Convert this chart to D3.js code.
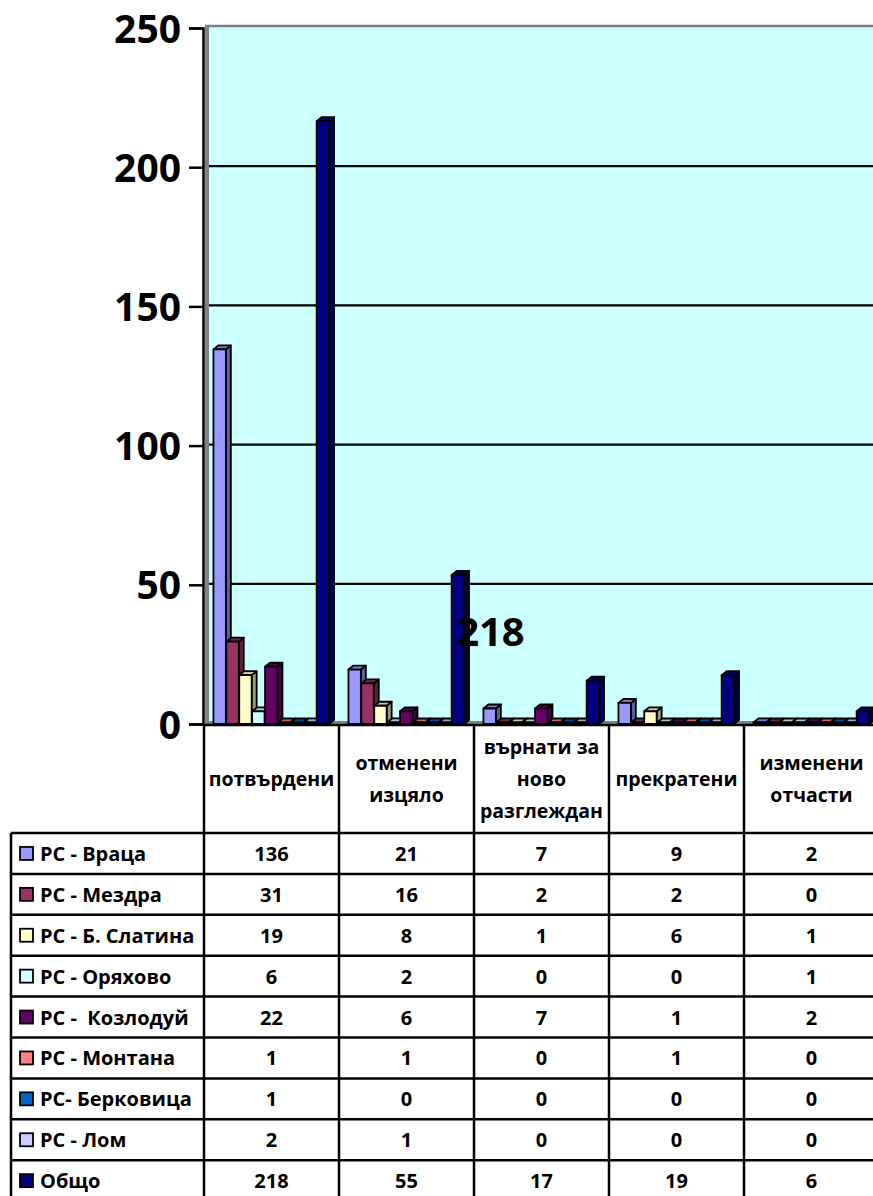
<!DOCTYPE html>
<html>
<head>
<meta charset="utf-8">
<script src="https://cdn.jsdelivr.net/npm/d3@7"></script>
<style>
  body { margin: 0; background: #fff; }
  text { font-family: "Open Sans", sans-serif; font-weight: bold; fill: #000; }
</style>
</head>
<body>
<svg id="chart" width="873" height="1196"></svg>
<script>
// categories along the x axis (table header)
const categories = ['потвърдени', 'отменени изцяло', 'върнати за ново разглеждан', 'прекратени', 'изменени отчасти']
const headerLines = [['потвърдени'], ['отменени', 'изцяло'], ['върнати за', 'ново', 'разглеждан'], ['прекратени'], ['изменени', 'отчасти']]

// series (table rows)
const series = ['РС - Враца', 'РС - Мездра', 'РС - Б. Слатина', 'РС - Оряхово', 'РС -  Козлодуй', 'РС - Монтана', 'РС- Берковица', 'РС - Лом', 'Общо']
const colors = ['#9999ff', '#993366', '#ffffcc', '#ccffff', '#660066', '#ff8080', '#0066cc', '#ccccff', '#000080']

// values per series, one per category
const vraca = [136, 21, 7, 9, 2]
const mezdra = [31, 16, 2, 2, 0]
const bSlatina = [19, 8, 1, 6, 1]
const oryahovo = [6, 2, 0, 0, 1]
const kozloduy = [22, 6, 7, 1, 2]
const montana = [1, 1, 0, 1, 0]
const berkovica = [1, 0, 0, 0, 0]
const lom = [2, 1, 0, 0, 0]
const total = [218, 55, 17, 19, 6]
const values = [vraca, mezdra, bSlatina, oryahovo, kozloduy, montana, berkovica, lom, total]

const yTicks = [0, 50, 100, 150, 200, 250]

const PLOT = {left: 205, top: 26, right: 873, bottom: 724}
const DX = 5, DY = 4
const ROW_TOP = 833, ROW_H = 40.9

let svg = d3.select('#chart')

let yScale = d3.scaleLinear().domain([0, 250]).range([PLOT.bottom, 28])
let xCat = d3.scaleBand().domain(categories).range([204, 879]).paddingInner(0.14).paddingOuter(0.07)
let xSer = d3.scaleBand().domain(series).range([0, xCat.bandwidth()])
let colStep = xCat.step()
let colStart = c => 204 + categories.indexOf(c) * colStep

// back wall
svg.append('rect')
  .attr('x', PLOT.left).attr('y', PLOT.top)
  .attr('width', PLOT.right - PLOT.left).attr('height', PLOT.bottom - PLOT.top)
  .attr('fill', '#ccffff')
svg.append('line')
  .attr('x1', PLOT.left).attr('x2', PLOT.right).attr('y1', PLOT.top).attr('y2', PLOT.top)
  .attr('stroke', '#808080').attr('stroke-width', 2.5)
svg.append('rect')
  .attr('x', PLOT.left).attr('y', PLOT.top).attr('width', 4).attr('height', PLOT.bottom - PLOT.top)
  .attr('fill', '#808080')

// gridlines
svg.append('g').selectAll('line')
  .data(yTicks.filter(d => d > 0 && d < 250))
  .enter().append('line')
  .attr('x1', PLOT.left + 4).attr('x2', PLOT.right)
  .attr('y1', d => yScale(d) - 1).attr('y2', d => yScale(d) - 1)
  .attr('stroke', '#000').attr('stroke-width', 2.2)

// floor
svg.append('rect')
  .attr('x', PLOT.left).attr('y', PLOT.bottom - 3).attr('width', PLOT.right - PLOT.left).attr('height', 3)
  .attr('fill', '#808080')

// y axis
let yAxis = d3.axisLeft(yScale).tickValues(yTicks).tickSize(14).tickPadding(8)
let axisG = svg.append('g').attr('transform', 'translate(203,0)').call(yAxis)
axisG.select('.domain').attr('stroke', '#000').attr('stroke-width', 2.5)
axisG.selectAll('.tick line').attr('stroke', '#000').attr('stroke-width', 2.5)
axisG.selectAll('.tick text')
  .attr('font-size', 39).attr('font-family', '"Open Sans", sans-serif').attr('font-weight', 'bold')
  .attr('x', -22).attr('dy', '0.36em')

// 3D columns
let barW = xSer.bandwidth() - 0.5
let bars = svg.append('g')
series.forEach(function(s, si) {
  categories.forEach(function(c, ci) {
    let v = values[si][ci]
    let x = xCat(c) + xSer(s)
    let yb = yScale(0)
    let yt = Math.min(yScale(v) + DY, yb - 1.5)
    let col = d3.color(colors[si])
    let g = bars.append('g').attr('stroke', '#000').attr('stroke-width', 1.8).attr('stroke-linejoin', 'round')
    // side
    g.append('path')
      .attr('d', 'M' + (x + barW) + ',' + yb + 'L' + (x + barW + DX) + ',' + (yb - DY) +
        'L' + (x + barW + DX) + ',' + (yt - DY) + 'L' + (x + barW) + ',' + yt + 'Z')
      .attr('fill', col.darker(1.4))
    // top
    g.append('path')
      .attr('d', 'M' + x + ',' + yt + 'L' + (x + DX) + ',' + (yt - DY) +
        'L' + (x + barW + DX) + ',' + (yt - DY) + 'L' + (x + barW) + ',' + yt + 'Z')
      .attr('fill', col.darker(0.7))
    // front
    g.append('rect')
      .attr('x', x).attr('y', yt).attr('width', barW).attr('height', yb - yt)
      .attr('fill', col)
  })
})

// stray data label
svg.append('text')
  .attr('x', xCat(categories[2]) + 7).attr('y', yScale(28))
  .attr('text-anchor', 'middle').attr('font-size', 40)
  .text(total[0])

// data table
let table = svg.append('g').attr('stroke', '#000').attr('stroke-width', 2.5)
let tableBottom = ROW_TOP + ROW_H * series.length
table.append('line').attr('x1', 204).attr('x2', 879).attr('y1', PLOT.bottom + 1).attr('y2', PLOT.bottom + 1)
table.selectAll('.row-line')
  .data(d3.range(series.length + 1))
  .enter().append('line')
  .attr('x1', 11).attr('x2', 879)
  .attr('y1', d => ROW_TOP + d * ROW_H).attr('y2', d => ROW_TOP + d * ROW_H)
table.selectAll('.col-line')
  .data(categories)
  .enter().append('line')
  .attr('x1', d => colStart(d)).attr('x2', d => colStart(d))
  .attr('y1', PLOT.bottom).attr('y2', tableBottom)
table.append('line').attr('x1', 11).attr('x2', 11).attr('y1', ROW_TOP).attr('y2', tableBottom)

// header text
let header = svg.append('g')
categories.forEach(function(c, ci) {
  let lines = headerLines[ci]
  let cx = colStart(c) + colStep / 2
  let cy = (PLOT.bottom + ROW_TOP) / 2
  lines.forEach(function(l, li) {
    header.append('text')
      .attr('x', cx).attr('y', cy + (li - (lines.length - 1) / 2) * 32 + 7)
      .attr('text-anchor', 'middle').attr('font-size', 19.5)
      .text(l)
  })
})

// legend column and values
let rows = svg.append('g')
series.forEach(function(s, si) {
  let cy = ROW_TOP + si * ROW_H + ROW_H / 2
  rows.append('rect')
    .attr('x', 20).attr('y', cy - 6.5).attr('width', 13).attr('height', 13)
    .attr('fill', colors[si]).attr('stroke', '#000').attr('stroke-width', 1.8)
  rows.append('text')
    .attr('x', 40).attr('y', cy + 7.5).attr('font-size', 20)
    .style('white-space', 'pre')
    .text(s)
  categories.forEach(function(c, ci) {
    rows.append('text')
      .attr('x', colStart(c) + colStep / 2).attr('y', cy + 7.5)
      .attr('text-anchor', 'middle').attr('font-size', 20)
      .text(values[si][ci])
  })
})
</script>
</body>
</html>
